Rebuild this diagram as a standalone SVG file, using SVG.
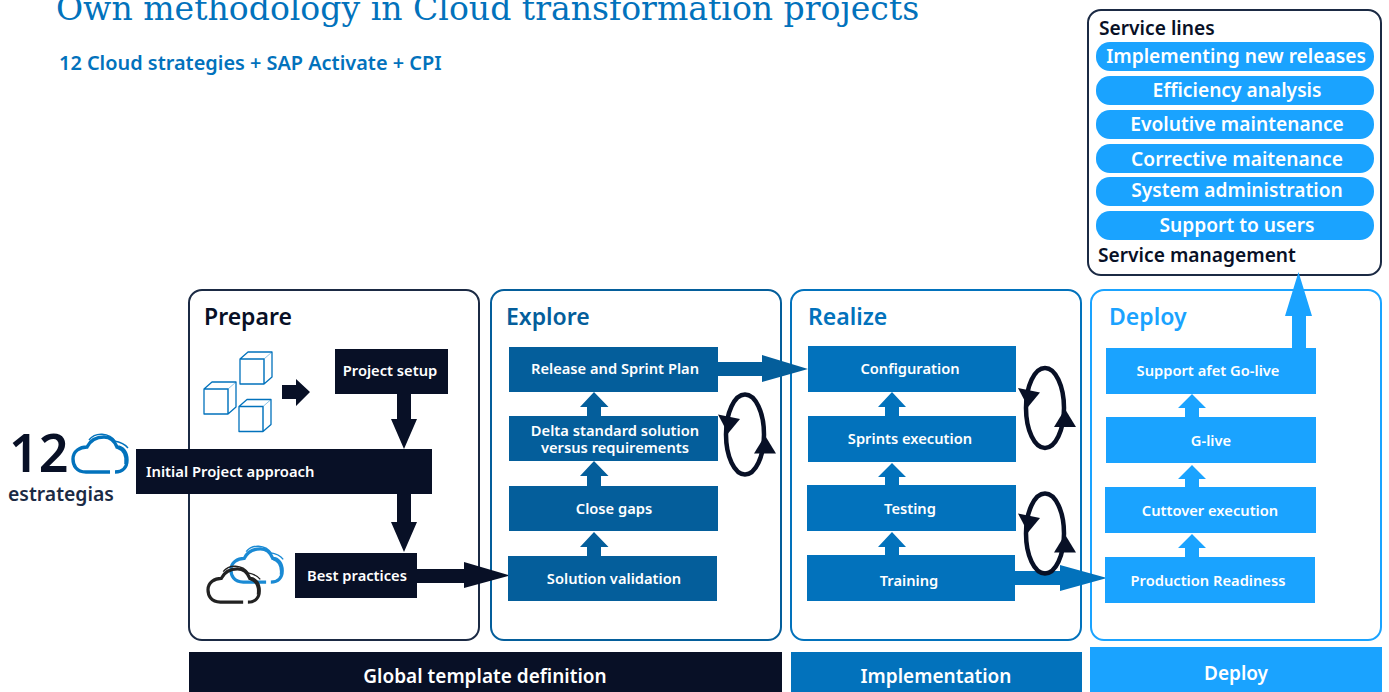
<svg xmlns="http://www.w3.org/2000/svg" xmlns:xlink="http://www.w3.org/1999/xlink" width="1389" height="692" viewBox="0 0 1389 692">
<style>
text{font-family:"Noto Sans","Open Sans",sans-serif;font-weight:600}
.w{fill:#fff;text-anchor:middle;font-size:14.7px}
.h{font-size:23px}
.b{font-size:19px;fill:#fff;text-anchor:middle}
.p{fill:#fff;text-anchor:middle;font-size:19.2px}
.s{font-size:19.2px;fill:#081026}
.fr{fill:#fff;stroke-width:2}
.n{fill:#081026}.e{fill:#045e9b}.r{fill:#0272bc}.d{fill:#1aa3ff}
.loop{fill:none;stroke:#081026;stroke-width:4.5}
.cube{fill:none;stroke:#0272bc;stroke-width:1.3;stroke-linejoin:round}
.cubei{fill:none;stroke:#8cc4e8;stroke-width:1}
.cm{fill:none;stroke-width:3.4}
.ct{fill:none;stroke-width:1.4}
</style>
<defs>
<g id="cube"><path class="cubei" d="M24 7L32 0M24 7V32"/><path class="cube" d="M0 7H24V32H0ZM0 7L8 0H32V25L24 32"/></g>
<g id="cloud"><path class="cm" d="M37 38H13C3 38 0 31 0 25C0 17 7 13 14 13C18 5 25 3 31 3C38 3 42 8 44 13C50 13 54 19 54 26C54 33 50 38 42 38"/><path class="ct" d="M16 6C22-2 36-2 43 8M41 7C47 8 52 10 55 14M44 14C50 16 53 22 52 30"/></g>
<g id="loop"><ellipse rx="19" ry="40" class="loop"/><path class="n" d="M-27-20L-5-15.500L-17-1Z"/><path class="n" d="M20 1L31 19H9Z"/></g>
</defs>
<g id="title">
<text x="56" y="20" style="font-family:'DejaVu Serif','Liberation Serif',serif;font-weight:400;font-size:33.1px" fill="#0272bc">Own methodology in Cloud transformation projects</text>
<text x="59" y="70" style="font-size:19.9px" fill="#0272bc">12 Cloud strategies + SAP Activate + CPI</text>
</g>
<g id="phase-prepare"><rect class="fr" x="189" y="290" width="290" height="350" rx="13" stroke="#1b2a44"/><text class="h" x="204" y="325" fill="#081026">Prepare</text></g>
<g id="phase-explore"><rect class="fr" x="491" y="290" width="290" height="350" rx="13" stroke="#045e9b"/><text class="h" x="506" y="325" fill="#045e9b">Explore</text></g>
<g id="phase-realize"><rect class="fr" x="791" y="290" width="290" height="350" rx="13" stroke="#0272bc"/><text class="h" x="808" y="325" fill="#0272bc">Realize</text></g>
<g id="phase-deploy"><rect class="fr" x="1091" y="290" width="290" height="350" rx="13" stroke="#1aa3ff"/><text class="h" x="1109" y="325" fill="#1aa3ff">Deploy</text></g>
<g id="icons">
<use xlink:href="#cube" x="240" y="352"/><use xlink:href="#cube" x="204" y="382"/><use xlink:href="#cube" x="239" y="399.500"/>
<path class="n" d="M282 385H296V379L310 392L296 406V399H282Z"/>
<use xlink:href="#cloud" x="73" y="434" stroke="#0272bc"/>
<text x="9" y="472" style="font-size:52px" fill="#081026">12</text>
<text x="8" y="501" style="font-size:19.4px" fill="#1b2a44">estrategias</text>
<use xlink:href="#cloud" x="231" y="546" stroke="#1a8ad4" transform="translate(11.500 27.300) scale(.95)"/>
<use xlink:href="#cloud" x="208" y="566" stroke="#222" transform="translate(10.400 28.300) scale(.95)"/>
</g>
<g id="connectors">
<path class="n" d="M397 393H411V419H417L404 449L391 419H397Z"/>
<path class="n" d="M397 494H411V522H417L404 552L391 522H397Z"/>
<path class="n" d="M417 569H464V562L510 575.500L464 588V583H417Z"/>
<path class="e" d="M718 362H762V355L808 369L762 382V376H718Z"/>
<path class="e" d="M587 416V407H580L594 392L608.500 407H601V416Z"/>
<path class="e" d="M587 486V476H580L594 461L608.500 476H601V486Z"/>
<path class="e" d="M587 556V547H580L594 532L608.500 547H601V556Z"/>
<path class="r" d="M885 416V407H878L892 392L906 407H899V416Z"/>
<path class="r" d="M885 486V477H878L892 463L906 477H899V486Z"/>
<path class="r" d="M885 555V547H878L892 532L906 547H899V555Z"/>
<path class="r" d="M1015 571H1060V565L1107 578L1060 591V585H1015Z"/>
<path class="d" d="M1185 417V408H1178L1192 394L1206 408H1199V417Z"/>
<path class="d" d="M1185 487V479H1178L1192 465L1206 479H1199V487Z"/>
<path class="d" d="M1185 557V548H1178L1192 534L1206 548H1199V557Z"/>
</g>
<g id="node-project-setup"><rect class="n" x="335" y="349" width="113" height="45"/><text class="w" x="390" y="376">Project setup</text></g>
<g id="node-initial"><rect class="n" x="136" y="449" width="296" height="45"/><text class="w" x="146" y="477" style="text-anchor:start;font-size:14.8px">Initial Project approach</text></g>
<g id="node-best"><rect class="n" x="295" y="553" width="122" height="45"/><text class="w" x="357" y="581">Best practices</text></g>
<g id="node-release"><rect class="e" x="509" y="347" width="209" height="45"/><text class="w" x="615" y="374">Release and Sprint Plan</text></g>
<g id="node-delta"><rect class="e" x="509" y="416" width="209" height="45"/><text class="w" x="615" y="436">Delta standard solution</text><text class="w" x="615" y="453">versus requirements</text></g>
<g id="node-gaps"><rect class="e" x="509" y="486" width="209" height="45"/><text class="w" x="614" y="514">Close gaps</text></g>
<g id="node-validation"><rect class="e" x="508" y="556" width="209" height="45"/><text class="w" x="614" y="584">Solution validation</text></g>
<g id="node-config"><rect class="r" x="808" y="346" width="208" height="46"/><text class="w" x="910" y="374">Configuration</text></g>
<g id="node-sprints"><rect class="r" x="808" y="416" width="208" height="46"/><text class="w" x="910" y="444">Sprints execution</text></g>
<g id="node-testing"><rect class="r" x="807" y="485" width="209" height="46"/><text class="w" x="910" y="514">Testing</text></g>
<g id="node-training"><rect class="r" x="807" y="555" width="208" height="46"/><text class="w" x="909" y="586">Training</text></g>
<g id="node-support"><rect class="d" x="1106" y="348" width="210" height="46"/><text class="w" x="1208" y="376">Support afet Go-live</text></g>
<g id="node-golive"><rect class="d" x="1106" y="417" width="210" height="46"/><text class="w" x="1211" y="446">G-live</text></g>
<g id="node-cutover"><rect class="d" x="1105" y="487" width="211" height="46"/><text class="w" x="1210" y="516">Cuttover execution</text></g>
<g id="node-readiness"><rect class="d" x="1105" y="557" width="210" height="46"/><text class="w" x="1208" y="586">Production Readiness</text></g>
<g id="loops"><use xlink:href="#loop" x="745" y="434.500"/><use xlink:href="#loop" x="1045" y="408"/><use xlink:href="#loop" x="1045" y="533.500"/></g>
<g id="band-global"><rect class="n" x="189" y="652" width="593" height="40"/><text class="b" x="485" y="683">Global template definition</text></g>
<g id="band-impl"><rect class="r" x="791" y="652" width="291" height="40"/><text class="b" x="936" y="683">Implementation</text></g>
<g id="band-deploy"><rect class="d" x="1090" y="647" width="292" height="45"/><text class="b" x="1236" y="680">Deploy</text></g>
<g id="service-box"><rect x="1088" y="10" width="293" height="265" rx="13" fill="#fff" stroke="#1b2a44" stroke-width="2"/>
<text class="s" x="1099" y="35">Service lines</text>
<rect class="d" x="1096" y="42" width="278" height="29" rx="14"/><text class="p" x="1236" y="63">Implementing new releases</text>
<rect class="d" x="1096" y="76" width="278" height="29" rx="14"/><text class="p" x="1237" y="97">Efficiency analysis</text>
<rect class="d" x="1096" y="110" width="278" height="29" rx="14"/><text class="p" x="1237" y="131">Evolutive maintenance</text>
<rect class="d" x="1096" y="144" width="278" height="29" rx="14"/><text class="p" x="1237" y="166">Corrective maitenance</text>
<rect class="d" x="1096" y="177" width="278" height="29" rx="14"/><text class="p" x="1237" y="197">System administration</text>
<rect class="d" x="1096" y="211" width="278" height="29" rx="14"/><text class="p" x="1237" y="232">Support to users</text>
<text class="s" x="1098" y="262">Service management</text>
</g>
<path id="connector-up" class="d" d="M1292 348V316H1285L1298.500 272L1312 316H1306V348Z"/>
</svg>
